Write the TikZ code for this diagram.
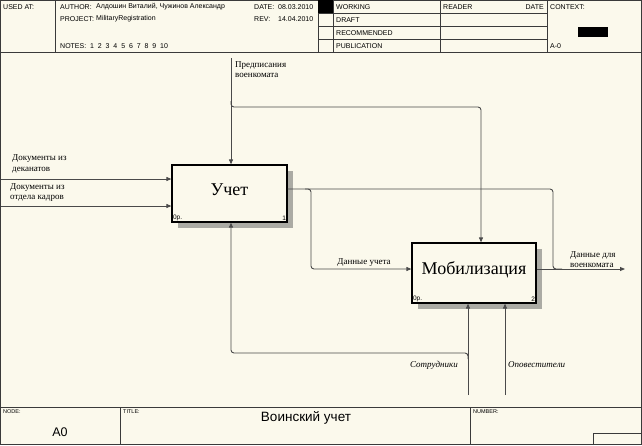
\documentclass[tikz,border=0pt]{standalone}
\usepackage{fontspec}
\setmainfont{Liberation Serif}
\setsansfont{Liberation Sans}
\usepackage{xcolor}
\definecolor{idefPaper}{HTML}{FBF9EC}
\definecolor{idefLine}{HTML}{4A4A4A}
\definecolor{idefFrame}{HTML}{3A3A3A}
\definecolor{idefShadow}{HTML}{ABABA4}
\usepackage{tikz}
\usetikzlibrary{arrows.meta,positioning,shadows,calc}
\tikzset{
    func/.style={
        draw=black,
        fill=idefPaper,
        rectangle,
        line width=1.2pt,
        inner sep=0pt,
        text height=12.5pt,
        text depth=9pt,
        general shadow={fill=idefShadow, shadow xshift=6pt, shadow yshift=-6pt},
        font=\fontsize{18}{18}\selectfont
    },
    flow/.style={
        draw=idefLine,
        line width=0.9pt,
        rounded corners=3pt
    },
    tip/.style={
        -{Triangle[length=5pt,width=4pt]}
    },
    lbl/.style={
        font=\fontsize{9}{10.5}\selectfont,
        align=left,
        inner sep=0pt
    },
    mech/.style={
        font=\itshape\fontsize{9}{10}\selectfont,
        inner sep=0pt
    },
    corner/.style={
        font=\sffamily\fontsize{6.5}{7}\selectfont,
        inner sep=1.5pt
    },
    hdr/.style={
        font=\sffamily\fontsize{7}{8}\selectfont,
        inner sep=0pt,
        anchor=west
    },
    frame/.style={
        draw=idefFrame,
        line width=0.6pt
    }
}

\begin{document}
\begin{tikzpicture}[x=1pt,y=-1pt]
    % paper and frame
    \fill[idefPaper] (0,0) rectangle (642,445);
    \useasboundingbox (0,0) rectangle (642,445);
    \draw[frame] (0.5,0.5) rectangle (641.5,444.5);

    % header
    \draw[frame] (0,52) -- (642,52);
    \foreach \xx in {55,318,333,440,547}
        \draw[frame] (\xx,0) -- (\xx,52);
    \foreach \yy in {13,26,39}
        \draw[frame] (318,\yy) -- (547,\yy);
    \fill[black] (318,0) rectangle (333,13);
    \fill[black] (578,27) rectangle (608,37);

    \node[hdr] (usedat) at (3,7) {USED AT:};
    \node[hdr] (author) at (60,7) {AUTHOR:};
    \node[hdr] (authors) at (96,7) {Алдошин Виталий, Чужинов Александр};
    \node[hdr] (project) at (60,19) {PROJECT:};
    \node[hdr] (projname) at (96,19) {MilitaryRegistration};
    \node[hdr] (date) at (254,7) {DATE:};
    \node[hdr] (dateval) at (278,7) {08.03.2010};
    \node[hdr] (rev) at (254,19) {REV:};
    \node[hdr] (revval) at (278,19) {14.04.2010};
    \node[hdr] (notes) at (60,46) {NOTES:\ \ 1\ \ 2\ \ 3\ \ 4\ \ 5\ \ 6\ \ 7\ \ 8\ \ 9\ \ 10};
    \foreach \st [count=\i] in {WORKING,DRAFT,RECOMMENDED,PUBLICATION}
        \node[hdr] (status\i) at (336,{7+13*(\i-1)}) {\st};
    \node[hdr] (reader) at (443,7) {READER};
    \node[hdr, anchor=east] (rdate) at (544,7) {DATE};
    \node[hdr] (context) at (550,7) {CONTEXT:};
    \node[hdr] (ctxnode) at (550,46) {A-0};

    % footer
    \draw[frame] (0,407) -- (642,407);
    \draw[frame] (120,407) -- (120,445);
    \draw[frame] (470,407) -- (470,445);
    \draw[frame] (593,445) -- (593,433) -- (642,433);
    \node[hdr, font=\sffamily\fontsize{5.5}{6}\selectfont] (nodelbl) at (3,412) {NODE:};
    \node[font=\sffamily\fontsize{12.5}{12.5}\selectfont] (nodeval) at (60,432) {A0};
    \node[hdr, font=\sffamily\fontsize{5.5}{6}\selectfont] (titlelbl) at (123,412) {TITLE:};
    \node[font=\sffamily\fontsize{13.5}{13.5}\selectfont] (title) at (306,418) {Воинский учет};
    \node[hdr, font=\sffamily\fontsize{5.5}{6}\selectfont] (numberlbl) at (473,412) {NUMBER:};

    % functions
    \node[func, minimum width=115pt, minimum height=57pt] (uchet) at (229.5,193.5) {Учет};
    \node[corner, anchor=south west] (uchetop) at (uchet.south west) {0р.};
    \node[corner, anchor=south east] (uchetno) at (uchet.south east) {1};
    \node[func, minimum width=124pt, minimum height=60pt] (mobil) at (474,273) {Мобилизация};
    \node[corner, anchor=south west] (mobilop) at (mobil.south west) {0р.};
    \node[corner, anchor=south east] (mobilno) at (mobil.south east) {2};

    % inputs
    \coordinate (in1) at (1,179);
    \coordinate (in2) at (1,206);
    \draw[flow, tip] (in1) -- (in1 -| uchet.west);
    \draw[flow, tip] (in2) -- (in2 -| uchet.west);
    \node[lbl, anchor=south west] (in1lbl) at (12,173) {Документы из\\деканатов};
    \node[lbl, anchor=south west] (in2lbl) at (10,202) {Документы из\\отдела кадров};

    % controls
    \coordinate (ctl) at (231,58);
    \coordinate (ctlb) at (481,107);
    \draw[flow, tip] (ctl) -- (ctl |- uchet.north);
    \draw[flow, tip] (231,101) -- (231,107) -- (ctlb) -- (ctlb |- mobil.north);
    \node[lbl, anchor=north west] (ctllbl) at (235,61) {Предписания\\военкомата};

    % outputs
    \coordinate (out1) at (287,189);
    \coordinate (out2) at (625,269);
    \draw[flow] (uchet.east |- out1) -- (553,189) -- (553,269) -- (562,269);
    \draw[flow, tip] (305,189) -- (311,189) -- (311,269) -- (mobil.west |- out2);
    \draw[flow, tip] (mobil.east |- out2) -- (out2);
    \node[lbl, anchor=base] (datalbl) at (364,264) {Данные учета};
    \node[lbl, anchor=south west] (outlbl) at (570,268) {Данные для\\военкомата};

    % mechanisms
    \coordinate (mech1) at (468,395);
    \coordinate (mech2) at (505,395);
    \draw[flow, tip] (mech1) -- (mech1 |- mobil.south);
    \draw[flow, tip] (mech2) -- (mech2 |- mobil.south);
    \draw[flow, tip] (468,359) -- (468,353) -- (231,353) -- (231,0 |- uchet.south);
    \node[mech, anchor=east] (mech1lbl) at (458,365) {Сотрудники};
    \node[mech, anchor=west] (mech2lbl) at (508,365) {Оповестители};
\end{tikzpicture}
\end{document}
